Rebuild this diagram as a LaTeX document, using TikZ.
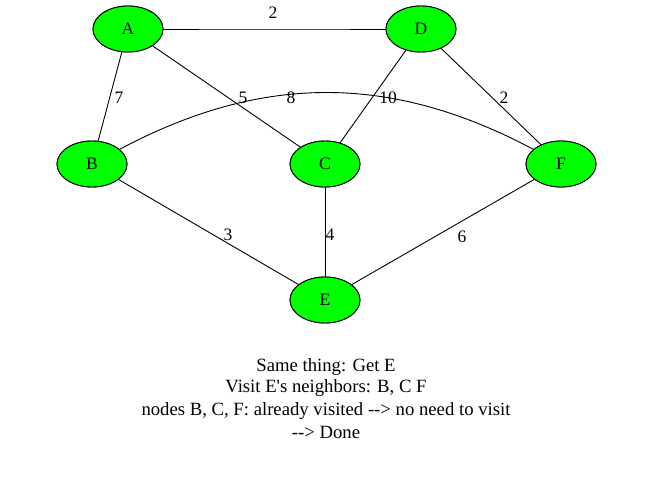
\documentclass[tikz,border=0pt]{standalone}
\usepackage{fontspec}
\setmainfont{Liberation Serif}
\usetikzlibrary{shapes.geometric,calc}
\begin{document}
\begin{tikzpicture}[x=1pt,y=-1pt,
  vert/.style={ellipse,draw=black,line width=0.9pt,fill=green,minimum width=70pt,minimum height=46pt,inner sep=0pt,font=\fontsize{17.5}{19}\selectfont},
  edge/.style={draw=black,line width=0.9pt},
  lbl/.style={inner sep=0pt,font=\fontsize{17.5}{19}\selectfont},
  txt/.style={inner sep=0pt,font=\fontsize{18.7}{20}\selectfont,anchor=base}]
\useasboundingbox (0,0) rectangle (653,477);
\fill[white] (0,0) rectangle (653,477);
\node[vert] (A) at (128,29) {A};
\node[vert] (D) at (421,29) {D};
\node[vert] (B) at (92,164) {B};
\node[vert] (C) at (325,164) {C};
\node[vert] (F) at (561,164) {F};
\node[vert] (E) at (325,300) {E};
\draw[edge] (A) -- (D);
\draw[draw=gray!60!black,line width=0.9pt] ($(A.east)!0.16!(D.west)$) -- ($(A.east)!0.84!(D.west)$);
\draw[edge] (A) -- (B);
\draw[edge] (A) -- (C);
\draw[edge] (D) -- (C);
\draw[edge] (D) -- (F);
\draw[edge] (B) to[bend left=28] (F);
\draw[edge] (B) -- (E);
\draw[edge] (C) -- (E);
\draw[edge] (F) -- (E);
% redraw nodes on top
\node[vert] at (A) {A};
\node[vert] at (D) {D};
\node[vert] at (B) {B};
\node[vert] at (C) {C};
\node[vert] at (F) {F};
\node[vert] at (E) {E};
% edge labels
\node[lbl] (lAD) at (273,13) {2};
\node[lbl] (lAB) at (119,98) {7};
\node[lbl] (lAC) at (243,98) {5};
\node[lbl] (lBF) at (291,98) {8};
\node[lbl] (lDC) at (388,98) {10};
\node[lbl] (lDF) at (504,98) {2};
\node[lbl] (lBE) at (228,235) {3};
\node[lbl] (lCE) at (330,235) {4};
\node[lbl] (lFE) at (462,237) {6};
% caption
\node[txt] (t1) at (326,371) {Same thing: Get E};
\node[txt] (t2) at (326,392) {Visit E\textquotesingle s neighbors: B, C F};
\node[txt] (t3) at (326,415) {nodes B, C, F: already visited -{}-{}> no need to visit};
\node[txt] (t4) at (326,438) {-{}-{}> Done};
\end{tikzpicture}
\end{document}
